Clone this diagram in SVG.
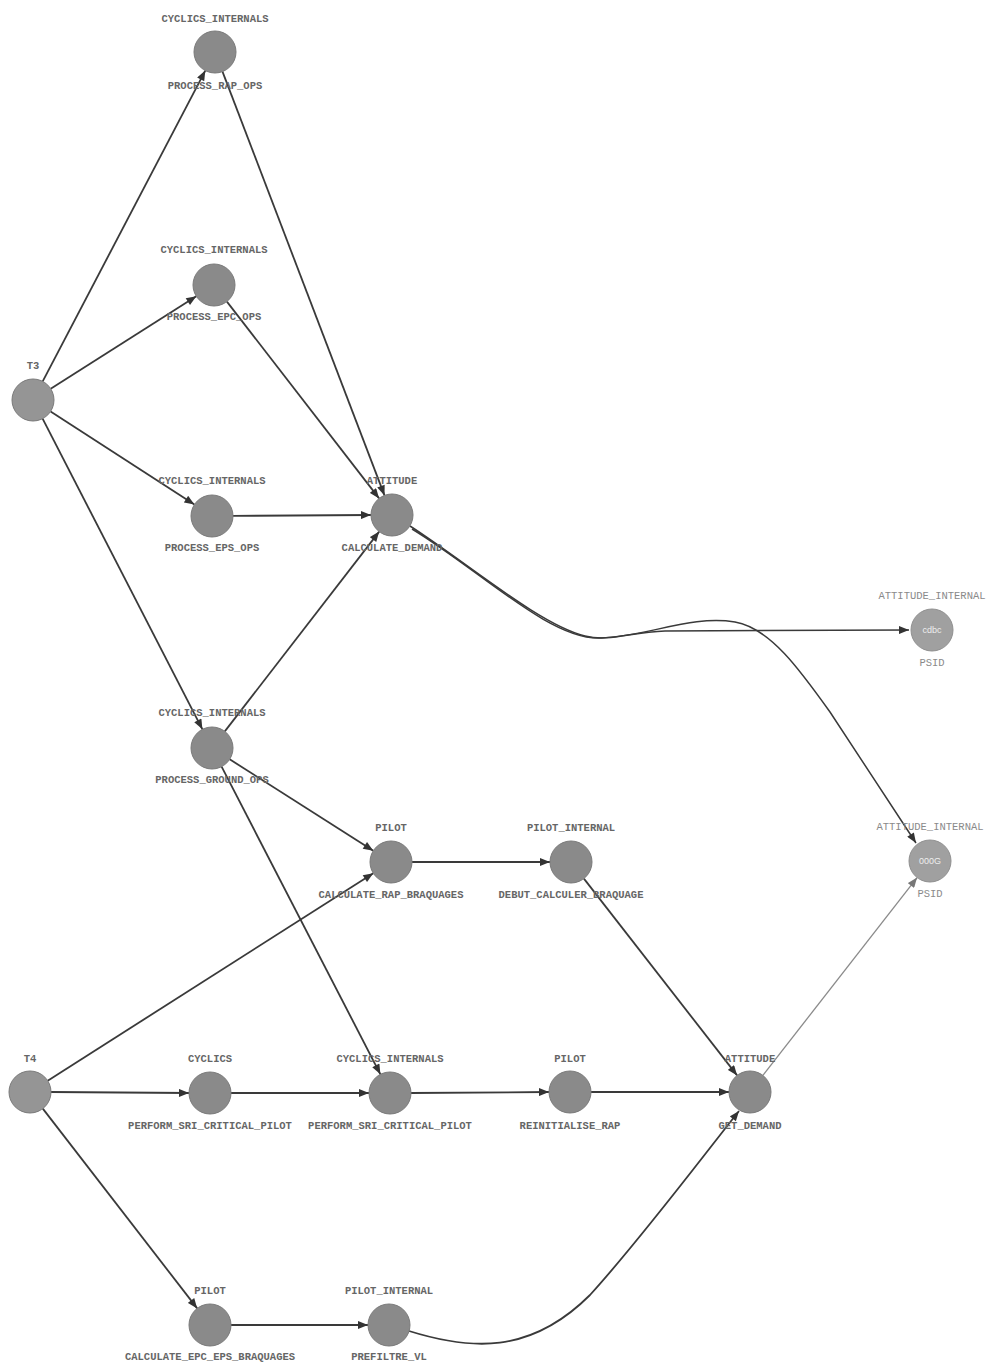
<svg xmlns="http://www.w3.org/2000/svg" width="991" height="1364" viewBox="0 0 991 1364">
<style>
.n{fill:#8a8a8a;stroke:#7a7a7a;stroke-width:1}
.nl{fill:#a0a0a0;stroke:#909090;stroke-width:1}
.t{font-family:"Liberation Mono",monospace;font-size:10.5px;font-weight:bold;fill:#666;text-anchor:middle}
.tl{font-family:"Liberation Mono",monospace;font-size:10.5px;fill:#8a8a8a;text-anchor:middle}
.in{font-family:"Liberation Sans",sans-serif;font-size:9px;fill:#eee;text-anchor:middle}
.e{fill:none;stroke:#3a3a3a;stroke-width:1.8;marker-end:url(#a)}
.el{fill:none;stroke:#8a8a8a;stroke-width:1.3;marker-end:url(#al)}
</style>
<defs>
<marker id="a" viewBox="0 0 10 8" refX="10" refY="4" markerWidth="11" markerHeight="8" markerUnits="userSpaceOnUse" orient="auto"><path d="M0,0 L10,4 L0,8 z" fill="#333"/></marker>
<marker id="al" viewBox="0 0 10 8" refX="10" refY="4" markerWidth="11" markerHeight="8" markerUnits="userSpaceOnUse" orient="auto"><path d="M0,0 L10,4 L0,8 z" fill="#777"/></marker>
</defs>
<rect width="991" height="1364" fill="#fff"/>
<g id="connectors">
<path class="e" d="M42.7,381.4 L205.3,70.6"/>
<path class="e" d="M50.7,388.7 L196.3,296.3"/>
<path class="e" d="M50.6,411.4 L194.4,504.6"/>
<path class="e" d="M42.6,418.7 L202.4,729.3"/>
<path class="e" d="M222.5,71.6 L384.5,495.4"/>
<path class="e" d="M226.9,301.6 L379.1,498.4"/>
<path class="e" d="M233,515.9 L371,515"/>
<path class="e" d="M224.8,731.4 L379.2,531.6"/>
<path class="e" d="M229.7,759.3 L373.3,850.7"/>
<path class="e" d="M221.6,766.7 L380.4,1074.3"/>
<path class="e" d="M47.7,1080.7 L373.3,873.3"/>
<path class="e" d="M51,1092 L189,1093"/>
<path class="e" d="M42.8,1108.6 L197.2,1308.4"/>
<path class="e" d="M231,1093 L369,1093"/>
<path class="e" d="M411,1093 L549,1092"/>
<path class="e" d="M591,1092 L729,1092"/>
<path class="e" d="M412,862 L550,862"/>
<path class="e" d="M583.9,878.6 L737.1,1075.4"/>
<path class="el" d="M762.9,1075.4 L917.1,877.6"/>
<path class="e" d="M231,1325 L368,1325"/>
<path class="e" d="M409,1331 C470,1350 530,1355 590,1295 C640,1240 700,1160 739,1111"/>
<path class="e" d="M410,526 C470,565 540,625 585,636 C610,642 630,632 665,631 L909,630" style="stroke-width:1.5"/>
<path class="e" d="M412,529 C480,570 550,640 600,638 C650,636 690,615 735,622 C770,628 800,670 830,712 L916,843" style="stroke-width:1.5"/>
</g>
<g id="n_rap"><circle class="n" cx="215" cy="52" r="21"/><text class="t" x="215" y="22">CYCLICS_INTERNALS</text><text class="t" x="215" y="89">PROCESS_RAP_OPS</text></g>
<g id="n_epc"><circle class="n" cx="214" cy="285" r="21"/><text class="t" x="214" y="253">CYCLICS_INTERNALS</text><text class="t" x="214" y="320">PROCESS_EPC_OPS</text></g>
<g id="n_t3"><circle class="n" cx="33" cy="400" r="21" style="fill:#959595"/><text class="t" x="33" y="369">T3</text></g>
<g id="n_eps"><circle class="n" cx="212" cy="516" r="21"/><text class="t" x="212" y="484">CYCLICS_INTERNALS</text><text class="t" x="212" y="551">PROCESS_EPS_OPS</text></g>
<g id="n_calcdem"><circle class="n" cx="392" cy="515" r="21"/><text class="t" x="392" y="484">ATTITUDE</text><text class="t" x="392" y="551">CALCULATE_DEMAND</text></g>
<g id="n_psid1"><circle class="nl" cx="932" cy="630" r="21"/><text class="in" x="932" y="633">cdbc</text><text class="tl" x="932" y="599">ATTITUDE_INTERNAL</text><text class="tl" x="932" y="666">PSID</text></g>
<g id="n_ground"><circle class="n" cx="212" cy="748" r="21"/><text class="t" x="212" y="716">CYCLICS_INTERNALS</text><text class="t" x="212" y="783">PROCESS_GROUND_OPS</text></g>
<g id="n_calcrap"><circle class="n" cx="391" cy="862" r="21"/><text class="t" x="391" y="831">PILOT</text><text class="t" x="391" y="898">CALCULATE_RAP_BRAQUAGES</text></g>
<g id="n_debut"><circle class="n" cx="571" cy="862" r="21"/><text class="t" x="571" y="831">PILOT_INTERNAL</text><text class="t" x="571" y="898">DEBUT_CALCULER_BRAQUAGE</text></g>
<g id="n_psid2"><circle class="nl" cx="930" cy="861" r="21"/><text class="in" x="930" y="864">000G</text><text class="tl" x="930" y="830">ATTITUDE_INTERNAL</text><text class="tl" x="930" y="897">PSID</text></g>
<g id="n_t4"><circle class="n" cx="30" cy="1092" r="21" style="fill:#959595"/><text class="t" x="30" y="1062">T4</text></g>
<g id="n_cyc"><circle class="n" cx="210" cy="1093" r="21"/><text class="t" x="210" y="1062">CYCLICS</text><text class="t" x="210" y="1129">PERFORM_SRI_CRITICAL_PILOT</text></g>
<g id="n_ci"><circle class="n" cx="390" cy="1093" r="21"/><text class="t" x="390" y="1062">CYCLICS_INTERNALS</text><text class="t" x="390" y="1129">PERFORM_SRI_CRITICAL_PILOT</text></g>
<g id="n_reinit"><circle class="n" cx="570" cy="1092" r="21"/><text class="t" x="570" y="1062">PILOT</text><text class="t" x="570" y="1129">REINITIALISE_RAP</text></g>
<g id="n_getdem"><circle class="n" cx="750" cy="1092" r="21"/><text class="t" x="750" y="1062">ATTITUDE</text><text class="t" x="750" y="1129">GET_DEMAND</text></g>
<g id="n_calcepc"><circle class="n" cx="210" cy="1325" r="21"/><text class="t" x="210" y="1294">PILOT</text><text class="t" x="210" y="1360">CALCULATE_EPC_EPS_BRAQUAGES</text></g>
<g id="n_prefiltre"><circle class="n" cx="389" cy="1325" r="21"/><text class="t" x="389" y="1294">PILOT_INTERNAL</text><text class="t" x="389" y="1360">PREFILTRE_VL</text></g>
</svg>
